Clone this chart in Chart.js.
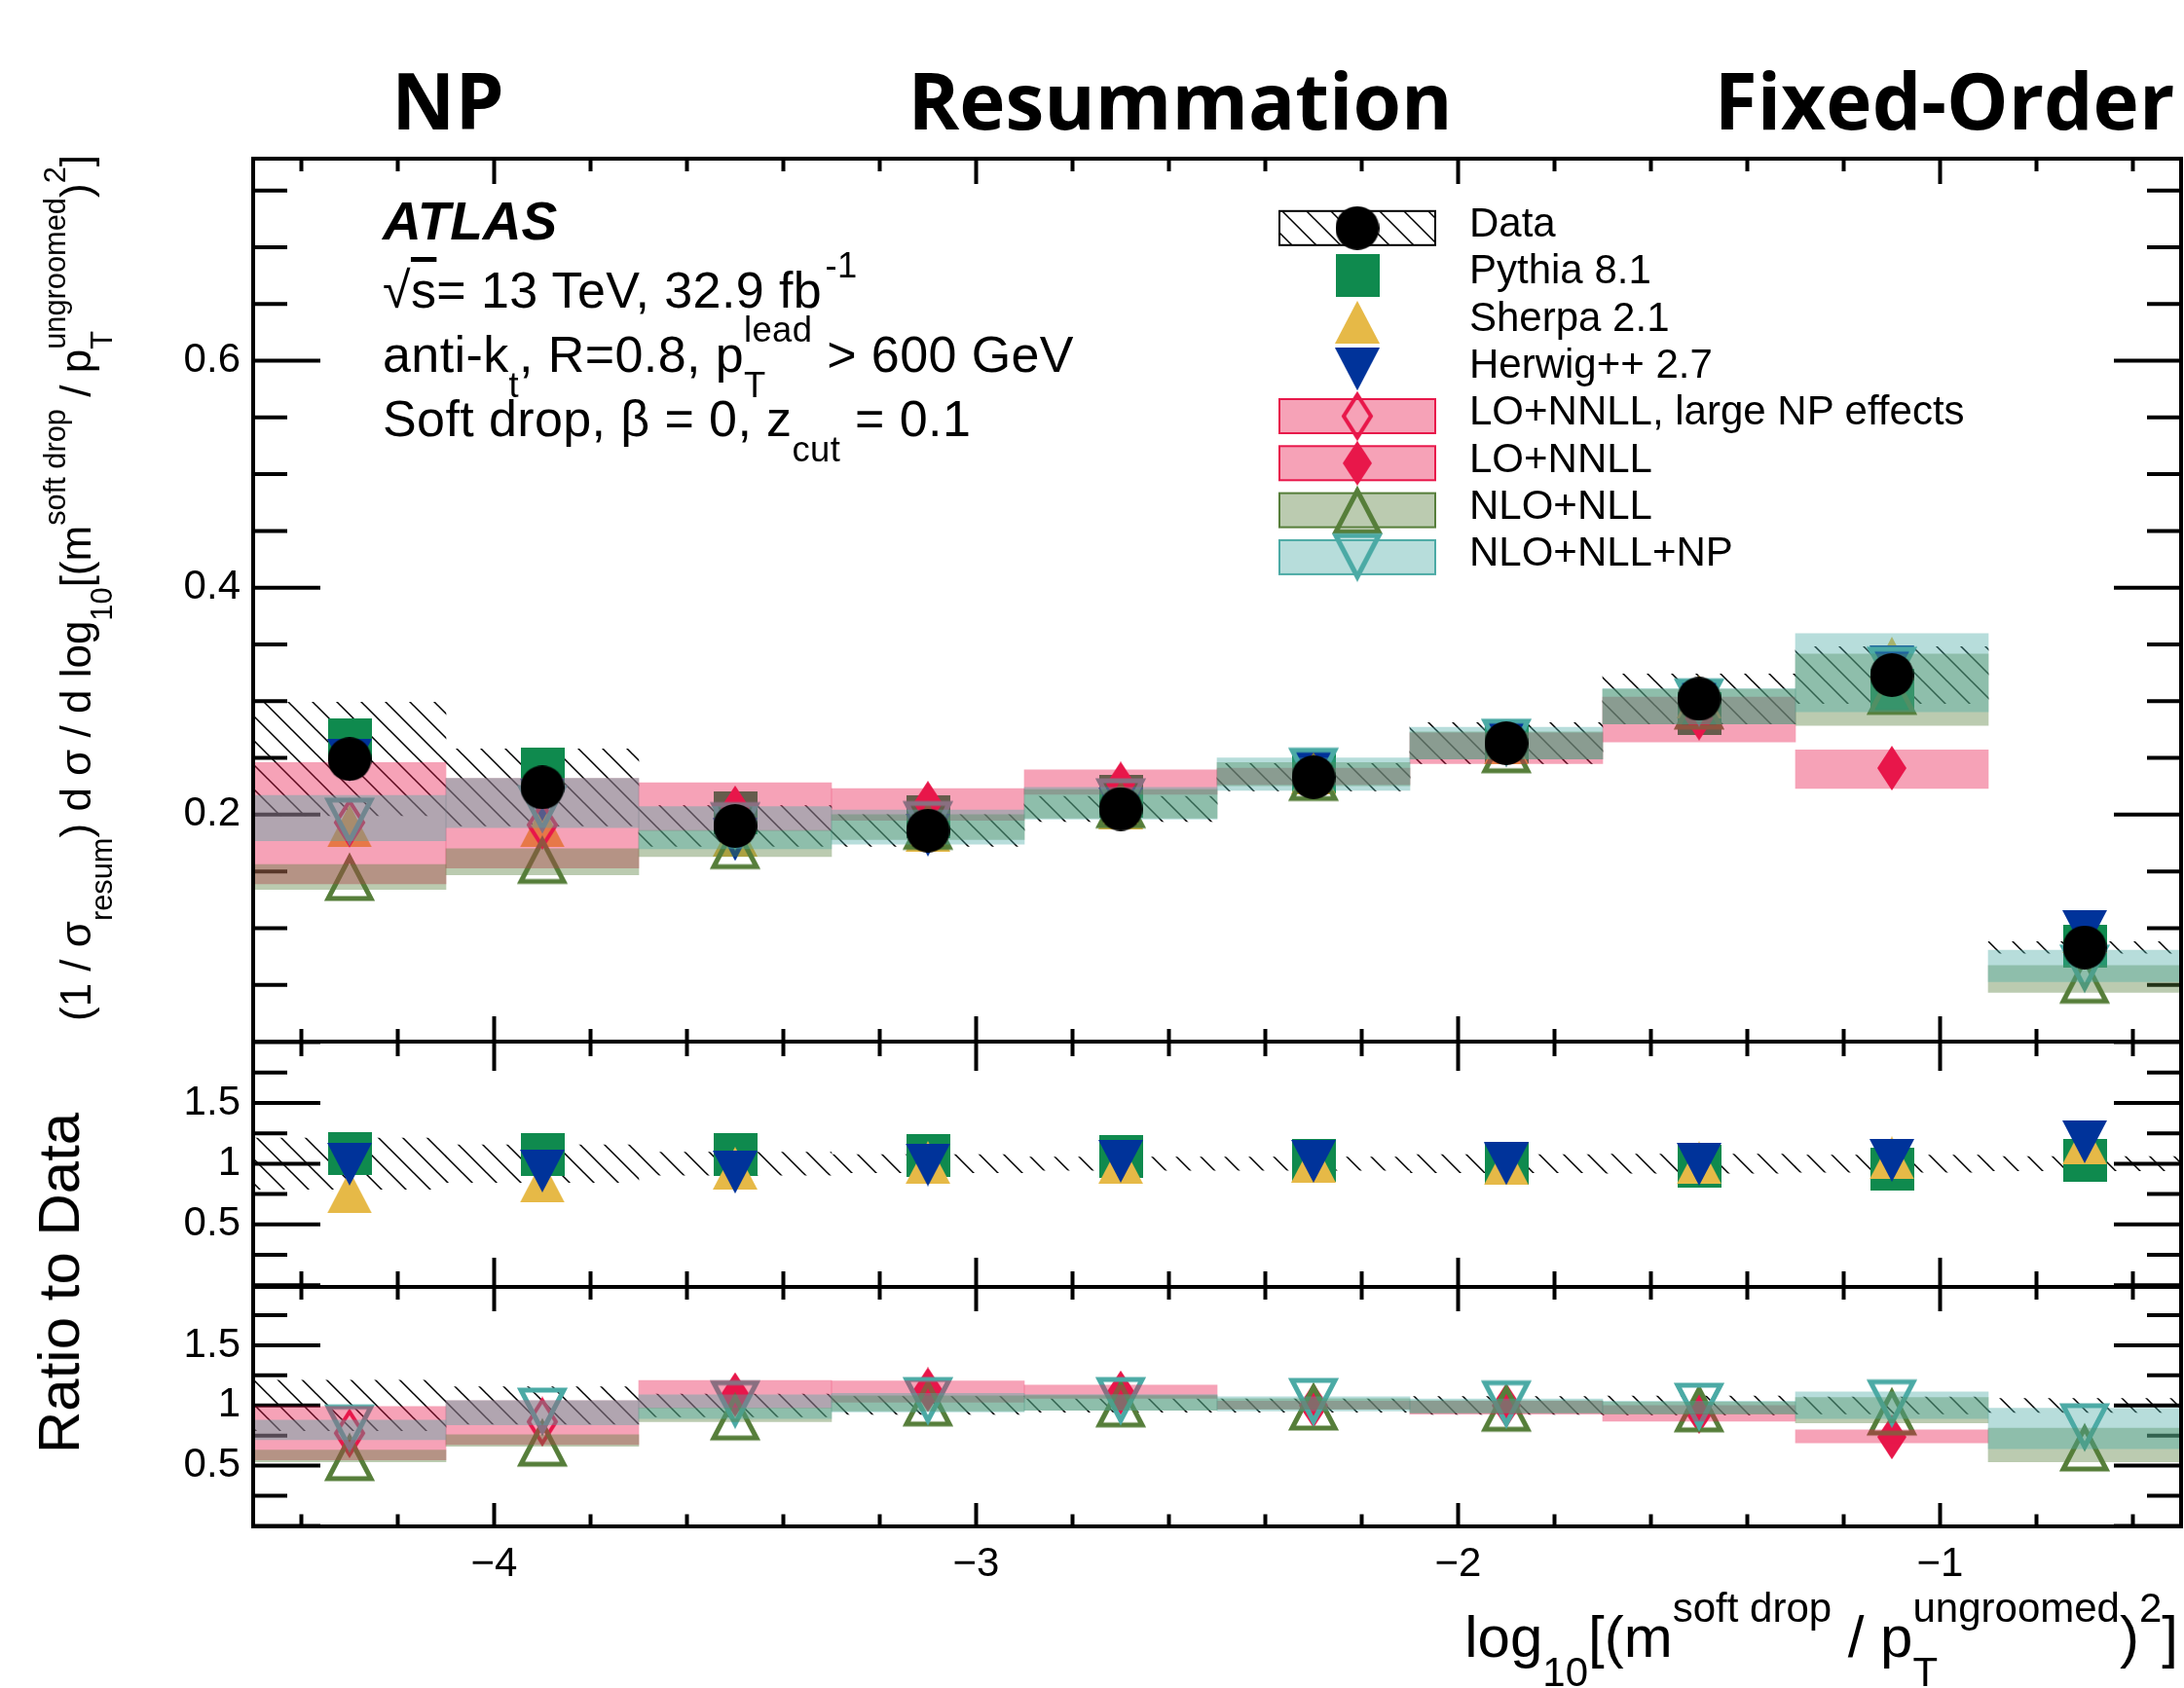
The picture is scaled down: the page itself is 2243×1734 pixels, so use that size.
<!DOCTYPE html>
<html>
<head>
<meta charset="utf-8">
<title>Soft drop mass</title>
<script src="https://cdn.jsdelivr.net/npm/chart.js@4.4.1/dist/chart.umd.min.js"></script>
<style>
  html, body { margin: 0; padding: 0; background: #fff; }
  #page { position: relative; width: 2243px; height: 1734px; overflow: hidden; background: #fff;
          font-family: "Liberation Sans", Arial, sans-serif; color: #000; }
  #page canvas { position: absolute; left: 0; }
  .t { position: absolute; white-space: nowrap; line-height: 1; }
  .hdr { font-family: "Open Sans", sans-serif; font-weight: 700; font-size: 80px; top: 62px; transform: translateX(-50%); }
  .lab { font-size: 52px; left: 393px; letter-spacing: 0.4px; }
  .leg { font-size: 42px; left: 1509px; }
  .sup { font-size: 0.7em; position: relative; top: -0.857em; }
  .sub { font-size: 0.7em; position: relative; top: 0.714em; }
  .stk { display: inline-flex; flex-direction: column; font-size: 0.7em; height: 1em; position: relative; top: -0.857em; row-gap: 0.571em; vertical-align: baseline; }
  .stk > span { flex-shrink: 0; line-height: 1; }
  .rot { transform: translate(-50%, -50%) rotate(-90deg); }
  .ov { text-decoration: overline; }
</style>
</head>
<body>
<div id="page">
  <canvas id="cMain" width="2243" height="1110" style="top:0px"></canvas>
  <canvas id="cMc" width="2243" height="332" style="top:1030px"></canvas>
  <canvas id="cTh" width="2243" height="452" style="top:1282px"></canvas>

  <div class="t hdr" style="left:460px">NP</div>
  <div class="t hdr" style="left:1212px">Resummation</div>
  <div class="t hdr" style="left:1997px">Fixed-Order</div>

  <div class="t" style="left:393px; top:200px; font-size:55px; font-weight:bold; font-style:italic">ATLAS</div>
  <div class="t lab" style="top:272px">√<span class="ov">s</span>= 13 TeV, 32.9 fb<span class="sup">&#8202;-1</span></div>
  <div class="t lab" style="top:338px">anti-k<span class="sub">t</span>, R=0.8, p<span class="stk"><span>lead</span><span>T</span></span> &gt; 600 GeV</div>
  <div class="t lab" style="top:404px">Soft drop, β = 0, z<span class="sub">cut</span> = 0.1</div>

  <div class="t leg" style="top:208px">Data</div>
  <div class="t leg" style="top:256px">Pythia 8.1</div>
  <div class="t leg" style="top:305px">Sherpa 2.1</div>
  <div class="t leg" style="top:353px">Herwig++ 2.7</div>
  <div class="t leg" style="top:401px">LO+NNLL, large NP effects</div>
  <div class="t leg" style="top:450px">LO+NNLL</div>
  <div class="t leg" style="top:498px">NLO+NLL</div>
  <div class="t leg" style="top:546px">NLO+NLL+NP</div>

  <div class="t rot" style="left:78px; top:604px; font-size:44px">(1 / σ<span class="sub">resum</span>) d σ / d log<span class="sub">10</span>[(m<span class="sup">soft drop</span> / p<span class="stk"><span>ungroomed</span><span>T</span></span>)<span class="sup">2</span>]</div>
  <div class="t rot" style="left:61px; top:1318px; font-size:60px">Ratio to Data</div>
  <div class="t" style="right:6px; top:1652px; font-size:60px">log<span class="sub">10</span>[(m<span class="sup">soft drop</span> / p<span class="stk"><span>ungroomed</span><span>T</span></span>)<span class="sup">2</span>]</div>
</div>

<script>
// bins of log10[(m/pT)^2], width 0.4
const binCenters = [-4.3, -3.9, -3.5, -3.1, -2.7, -2.3, -1.9, -1.5, -1.1, -0.7];
const xTickValues = [-4, -3, -2, -1];
const xTickText = { '-4': '\u22124', '-3': '\u22123', '-2': '\u22122', '-1': '\u22121' };

// upper panel
const dataMain    = [0.249, 0.224, 0.190, 0.186, 0.205, 0.233, 0.263, 0.302, 0.323, 0.083];
const dataErrMain = [0.050, 0.034, 0.018, 0.014, 0.011, 0.012, 0.018, 0.022, 0.025, 0.005];
const pythiaMain  = [0.266, 0.240, 0.202, 0.198, 0.216, 0.238, 0.264, 0.289, 0.310, 0.084];
const sherpaMain  = [0.190, 0.190, 0.182, 0.186, 0.206, 0.237, 0.263, 0.304, 0.338, 0.097];
const herwigMain  = [0.248, 0.213, 0.178, 0.182, 0.205, 0.238, 0.264, 0.298, 0.330, 0.097];
const loNpMain    = [0.193, 0.191, null, null, null, null, null, null, null, null];
const loMain      = [null, null, 0.206, 0.210, 0.227, 0.235, 0.262, 0.285, 0.241, null];
const pinkLoMain  = [0.139, 0.153, 0.186, 0.195, 0.218, 0.2265, 0.245, 0.264, 0.223, null];
const pinkHiMain  = [0.246, 0.232, 0.228, 0.223, 0.2395, 0.241, 0.272, 0.3035, 0.257, null];
const nllMain     = [0.145, 0.160, 0.173, 0.190, 0.209, 0.233, 0.2575, 0.296, 0.309, 0.0545];
const nllLoMain   = [0.134, 0.147, 0.163, 0.178, 0.197, 0.2255, 0.249, 0.280, 0.2786, 0.0434];
const nllHiMain   = [0.156, 0.170, 0.186, 0.200, 0.222, 0.246, 0.273, 0.3105, 0.3415, 0.0671];
const npMain      = [0.194, 0.205, 0.190, 0.191, 0.211, 0.238, 0.2635, 0.299, 0.327, 0.0645];
const npLoMain    = [0.177, 0.1886, 0.170, 0.174, 0.196, 0.2214, 0.249, 0.280, 0.2906, 0.0528];
const npHiMain    = [0.217, 0.232, 0.207, 0.204, 0.224, 0.250, 0.277, 0.311, 0.3595, 0.0805];

// middle panel: generators / data
const dataRelErr  = [0.21, 0.155, 0.094, 0.075, 0.055, 0.055, 0.075, 0.078, 0.07, 0.058];
const pythiaRatio = [1.08, 1.077, 1.072, 1.07, 1.06, 1.026, 1.004, 0.98, 0.958, 1.027];
const sherpaRatio = [0.767, 0.855, 0.962, 1.01, 1.01, 1.02, 1.0, 1.008, 1.048, 1.169];
const herwigRatio = [0.996, 0.94, 0.93, 0.99, 1.02, 1.02, 1.0, 0.995, 1.027, 1.18];

// lower panel: calculations / data
const loNpRatio   = [0.77, 0.865, null, null, null, null, null, null, null, null];
const loRatio     = [null, null, 1.09, 1.132, 1.105, 1.0, 1.0, 0.949, 0.738, null];
const pinkLoRatio = [0.548, 0.676, 0.98, 1.027, 1.06, 0.97, 0.927, 0.87, 0.689, null];
const pinkHiRatio = [0.992, 1.04, 1.208, 1.203, 1.17, 1.035, 1.035, 1.0, 0.797, null];
const nllRatio    = [0.57, 0.69, 0.908, 1.024, 1.016, 0.99, 0.98, 0.975, 0.949, 0.65];
const nllLoRatio  = [0.532, 0.66, 0.865, 0.955, 0.96, 0.968, 0.938, 0.927, 0.856, 0.532];
const nllHiRatio  = [0.63, 0.757, 0.98, 1.08, 1.083, 1.056, 1.04, 1.028, 1.067, 0.811];
const npRatio     = [0.81, 0.95, 1.01, 1.038, 1.038, 1.03, 1.01, 0.99, 1.018, 0.82];
const npLoRatio   = [0.716, 0.838, 0.892, 0.946, 0.96, 0.954, 0.938, 0.932, 0.892, 0.64];
const npHiRatio   = [0.878, 1.04, 1.089, 1.1, 1.09, 1.073, 1.054, 1.035, 1.113, 0.978];

// colours
const RED = '#E8174A', OLIVE = '#567E3A', TEAL = '#4BAAA5';
const PYTHIA = '#0F8A4E', SHERPA = '#E6B947', HERWIG = '#00339A';
const PINK_BAND = 'rgba(232,23,74,0.4)', OLIVE_BAND = 'rgba(86,126,58,0.4)', TEAL_BAND = 'rgba(75,170,165,0.4)';

function canvasOf(w, h, draw) {
  const c = document.createElement('canvas');
  c.width = w; c.height = h;
  draw(c.getContext('2d'), w, h);
  return c;
}

// marker glyphs
const mk = {
  data: canvasOf(45, 45, g => { g.fillStyle = '#000'; g.beginPath(); g.arc(22.5, 22.5, 22.5, 0, 2 * Math.PI); g.fill(); }),
  pythia: canvasOf(45, 44, g => { g.fillStyle = PYTHIA; g.fillRect(0, 0, 45, 44); }),
  sherpa: canvasOf(46, 44, g => { g.fillStyle = SHERPA; g.beginPath(); g.moveTo(23, 0); g.lineTo(46, 44); g.lineTo(0, 44); g.closePath(); g.fill(); }),
  herwig: canvasOf(46, 44, g => { g.fillStyle = HERWIG; g.beginPath(); g.moveTo(0, 0); g.lineTo(46, 0); g.lineTo(23, 44); g.closePath(); g.fill(); }),
  loOpen: canvasOf(34, 52, g => { g.strokeStyle = RED; g.lineWidth = 4; g.beginPath(); g.moveTo(17, 4); g.lineTo(31, 26); g.lineTo(17, 48); g.lineTo(3, 26); g.closePath(); g.stroke(); }),
  loFill: canvasOf(30, 46, g => { g.fillStyle = RED; g.beginPath(); g.moveTo(15, 0); g.lineTo(30, 23); g.lineTo(15, 46); g.lineTo(0, 23); g.closePath(); g.fill(); }),
  nll: canvasOf(52, 54, g => { g.strokeStyle = OLIVE; g.lineWidth = 5; g.beginPath(); g.moveTo(26, 7); g.lineTo(48, 49); g.lineTo(4, 49); g.closePath(); g.stroke(); }),
  np: canvasOf(52, 54, g => { g.strokeStyle = TEAL; g.lineWidth = 5; g.beginPath(); g.moveTo(4, 5); g.lineTo(48, 5); g.lineTo(26, 47); g.closePath(); g.stroke(); })
};

// 45 degree hatching for the data uncertainty
const HATCH = (() => {
  const s = 25;
  const tile = canvasOf(s, s, g => {
    g.strokeStyle = '#000'; g.lineWidth = 1.5;
    g.beginPath();
    for (const k of [-1, 0, 1]) { g.moveTo(-s, -s + k * s); g.lineTo(2 * s, 2 * s + k * s); }
    g.stroke();
  });
  return document.createElement('canvas').getContext('2d').createPattern(tile, 'repeat');
})();

const points = ys => binCenters.map((x, i) => ys[i] == null ? null : { x, y: ys[i] }).filter(Boolean);
const ranges = (lo, hi) => binCenters.map((x, i) => lo[i] == null ? null : { x, y: [lo[i], hi[i]] }).filter(Boolean);

function bandSet(lo, hi, fill, order) {
  return { type: 'bar', data: ranges(lo, hi), backgroundColor: fill, borderWidth: 0, borderSkipped: false,
           grouped: false, barPercentage: 1, categoryPercentage: 1, order };
}
function markSet(ys, img, order) {
  return { type: 'scatter', data: points(ys), pointStyle: img, pointRadius: 22, pointHoverRadius: 22, order };
}

// inward ticks on all four sides plus the frame
const frameTicks = {
  id: 'frameTicks',
  beforeDatasetsDraw(chart, args, o) {
    const { ctx, chartArea: a, scales: { x, y } } = chart;
    ctx.save();
    ctx.strokeStyle = '#000'; ctx.lineWidth = 4; ctx.lineCap = 'butt';
    ctx.beginPath();
    for (let k = Math.ceil(y.min / o.yStep - 1e-6); k * o.yStep <= y.max + 1e-9; k++) {
      const v = k * o.yStep;
      const r = v / o.yMajor;
      const len = Math.abs(r - Math.round(r)) < 1e-6 ? 69 : 35;
      const py = y.getPixelForValue(v);
      ctx.moveTo(a.left, py); ctx.lineTo(a.left + len, py);
      ctx.moveTo(a.right, py); ctx.lineTo(a.right - len, py);
    }
    for (let k = Math.ceil(x.min / 0.2 + 1e-6); k * 0.2 < x.max - 1e-6; k++) {
      const v = k * 0.2;
      const major = Math.abs(v - Math.round(v)) < 1e-6;
      const px = x.getPixelForValue(v);
      ctx.moveTo(px, a.top); ctx.lineTo(px, a.top + (major ? o.xTop[1] : o.xTop[0]));
      ctx.moveTo(px, a.bottom); ctx.lineTo(px, a.bottom - (major ? o.xBot[1] : o.xBot[0]));
    }
    ctx.stroke();
    ctx.restore();
  },
  afterDatasetsDraw(chart) {
    const { ctx, chartArea: a } = chart;
    ctx.save();
    ctx.strokeStyle = '#000'; ctx.lineWidth = 4;
    ctx.strokeRect(a.left, a.top, a.right - a.left, a.bottom - a.top);
    ctx.restore();
  }
};

// legend keys (text is HTML)
const legendKeys = {
  id: 'legendKeys',
  afterDatasetsDraw(chart) {
    const g = chart.ctx, x0 = 1314, w = 160, h = 35, cx = x0 + w / 2;
    const rows = [
      { fill: HATCH, edge: '#000', img: mk.data },
      { img: mk.pythia }, { img: mk.sherpa }, { img: mk.herwig },
      { fill: PINK_BAND, edge: RED, img: mk.loOpen },
      { fill: PINK_BAND, edge: RED, img: mk.loFill },
      { fill: OLIVE_BAND, edge: OLIVE, img: mk.nll },
      { fill: TEAL_BAND, edge: TEAL, img: mk.np }
    ];
    g.save();
    rows.forEach((r, i) => {
      const cy = 234.3 + 48.3 * i;
      if (r.fill) {
        g.fillStyle = r.fill; g.fillRect(x0, cy - h / 2, w, h);
        g.strokeStyle = r.edge; g.lineWidth = 2; g.strokeRect(x0, cy - h / 2, w, h);
      }
      g.drawImage(r.img, cx - r.img.width / 2, cy - r.img.height / 2);
    });
    g.restore();
  }
};

const tickFont = { family: 'Liberation Sans', size: 42 };

function panel(id, datasets, y, frame, padTop, padBottom, showX, extra) {
  const xScale = {
    type: 'linear', min: -4.5, max: -0.5, display: showX, offset: false,
    grid: { display: false, drawTicks: false, offset: false }, border: { display: false },
    afterBuildTicks: s => { s.ticks = xTickValues.map(v => ({ value: v })); },
    ticks: { autoSkip: false, maxRotation: 0, padding: 14, font: tickFont, color: '#000',
             callback: v => xTickText[String(v)] || '' }
  };
  if (showX) xScale.afterFit = s => { s.height = 70; };
  return new Chart(document.getElementById(id), {
    type: 'scatter',
    data: { datasets },
    options: {
      responsive: false, animation: false, events: [], devicePixelRatio: 1,
      layout: { autoPadding: false, padding: { left: 0, right: 3, top: padTop, bottom: padBottom } },
      plugins: { legend: { display: false }, tooltip: { enabled: false }, frameTicks: frame },
      scales: {
        x: xScale,
        y: {
          type: 'linear', min: y.min, max: y.max,
          grid: { display: false, drawTicks: false }, border: { display: false },
          ticks: { stepSize: y.step, autoSkip: false, padding: 13, font: tickFont, color: '#000', callback: y.label },
          afterFit: s => { s.width = 260; }
        }
      }
    },
    plugins: extra ? [frameTicks, extra] : [frameTicks]
  });
}

const ratioLabel = v => {
  if (v < 0.3 || v > 1.7 || Math.abs(v * 2 - Math.round(v * 2)) > 1e-6) return '';
  return v === 1 ? '1' : String(v);
};

// upper panel
panel('cMain', [
  markSet(dataMain, mk.data, 0),
  bandSet(npLoMain, npHiMain, TEAL_BAND, 1),
  bandSet(nllLoMain, nllHiMain, OLIVE_BAND, 2),
  bandSet(pinkLoMain, pinkHiMain, PINK_BAND, 3),
  markSet(npMain, mk.np, 4),
  markSet(nllMain, mk.nll, 5),
  markSet(loMain, mk.loFill, 6),
  markSet(loNpMain, mk.loOpen, 6),
  markSet(herwigMain, mk.herwig, 7),
  markSet(sherpaMain, mk.sherpa, 8),
  markSet(pythiaMain, mk.pythia, 9),
  bandSet(dataMain.map((v, i) => v - dataErrMain[i]), dataMain.map((v, i) => v + dataErrMain[i]), HATCH, 10)
], {
  min: 0, max: 0.778, step: 0.05,
  label: v => (v > 0.01 && Math.abs(v / 0.2 - Math.round(v / 0.2)) < 1e-6) ? v.toFixed(1) : ''
}, { yStep: 0.05, yMajor: 0.2, xTop: [13, 26], xBot: [13, 26] }, 163, 40, false, legendKeys);

// middle panel
panel('cMc', [
  markSet(herwigRatio, mk.herwig, 7),
  markSet(sherpaRatio, mk.sherpa, 8),
  markSet(pythiaRatio, mk.pythia, 9),
  bandSet(dataRelErr.map(e => 1 - e), dataRelErr.map(e => 1 + e), HATCH, 10)
], { min: -0.015, max: 2.005, step: 0.25, label: ratioLabel },
   { yStep: 0.25, yMajor: 0.5, xTop: [15, 30], xBot: [16, 30] }, 40, 40, false);

// lower panel
panel('cTh', [
  bandSet(npLoRatio, npHiRatio, TEAL_BAND, 1),
  bandSet(nllLoRatio, nllHiRatio, OLIVE_BAND, 2),
  bandSet(pinkLoRatio, pinkHiRatio, PINK_BAND, 3),
  markSet(npRatio, mk.np, 4),
  markSet(nllRatio, mk.nll, 5),
  markSet(loRatio, mk.loFill, 6),
  markSet(loNpRatio, mk.loOpen, 6),
  bandSet(dataRelErr.map(e => 1 - e), dataRelErr.map(e => 1 + e), HATCH, 10)
], { min: -0.005, max: 1.985, step: 0.25, label: ratioLabel },
   { yStep: 0.25, yMajor: 0.5, xTop: [13, 25], xBot: [12.5, 24] }, 40, 96, true);
</script>
</body>
</html>
